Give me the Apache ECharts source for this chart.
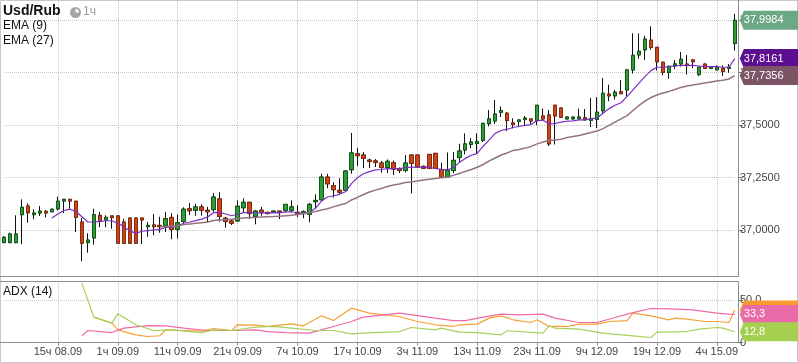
<!DOCTYPE html>
<html>
<head>
<meta charset="utf-8">
<script src="https://cdn.jsdelivr.net/npm/echarts@6/dist/echarts.min.js"></script>
<style>
html,body{margin:0;padding:0;background:#fff;}
#c{width:798px;height:363px;}
</style>
</head>
<body>
<div id="c"></div>
<script>
// ---------- DATA ----------
const days = [['08.09',6,23],['09.09',0,23],['10.09',0,23],['11.09',0,23],['12.09',0,23],['14.09',23,23],['15.09',0,7]];
const categories = [];
days.forEach(([d,a,b]) => { for (let h=a; h<=b; h++) categories.push(h + 'ч ' + d); });
const tickFirst = 9, tickStep = 10;

const opens = [
36.940,36.940,36.940,37.073,37.114,37.073,37.081,37.089,37.087,37.101,
37.138,37.146,37.137,37.038,36.940,36.962,37.070,37.048,37.067,37.067,
37.038,37.057,37.057,37.057,37.016,37.024,37.022,37.022,37.060,37.003,
37.041,37.101,37.094,37.110,37.094,37.097,37.148,37.056,37.043,37.043,
37.106,37.132,37.065,37.094,37.084,37.084,37.090,37.094,37.094,37.084,
37.078,37.075,37.135,37.144,37.252,37.211,37.189,37.189,37.287,37.363,
37.357,37.333,37.329,37.319,37.298,37.321,37.290,37.283,37.357,37.357,
37.303,37.360,37.365,37.288,37.252,37.283,37.345,37.381,37.407,37.412,
37.426,37.506,37.519,37.560,37.556,37.510,37.517,37.526,37.529,37.521,
37.543,37.548,37.594,37.581,37.529,37.529,37.529,37.534,37.522,37.526,
37.568,37.647,37.639,37.658,37.667,37.762,37.834,37.858,37.904,37.870,
37.799,37.750,37.782,37.791,37.790,37.810,37.740,37.790,37.769,37.763,
37.769,37.769,37.888];
const closes = [
36.965,36.981,36.981,37.108,37.082,37.081,37.090,37.081,37.099,37.137,
37.146,37.138,37.060,36.937,36.952,37.073,37.041,37.060,37.059,36.937,
36.937,36.937,36.937,37.048,37.022,37.016,37.016,37.054,37.003,37.035,
37.099,37.092,37.110,37.094,37.087,37.157,37.065,37.040,37.032,37.113,
37.132,37.078,37.090,37.084,37.078,37.090,37.084,37.122,37.110,37.078,
37.087,37.122,37.141,37.252,37.220,37.192,37.180,37.281,37.367,37.354,
37.341,37.326,37.321,37.298,37.327,37.290,37.283,37.319,37.317,37.300,
37.294,37.293,37.293,37.252,37.284,37.332,37.376,37.410,37.419,37.422,
37.508,37.529,37.552,37.569,37.521,37.502,37.524,37.533,37.519,37.594,
37.529,37.410,37.543,37.537,37.538,37.538,37.538,37.525,37.530,37.561,
37.651,37.639,37.656,37.649,37.762,37.832,37.851,37.909,37.869,37.801,
37.750,37.779,37.791,37.813,37.783,37.801,37.775,37.769,37.775,37.775,
37.755,37.775,37.9984];
const lows = [
36.937,36.937,36.937,36.933,37.035,37.051,37.067,37.060,37.086,37.092,
37.080,37.101,36.990,36.851,36.892,36.930,37.013,37.013,37.006,36.937,
36.937,36.937,36.937,36.933,36.968,36.975,36.987,36.990,36.956,36.959,
37.032,37.071,37.068,37.068,37.037,37.087,37.040,37.011,37.024,37.040,
37.084,37.052,37.027,37.068,37.075,37.082,37.052,37.084,37.084,37.062,
37.056,37.037,37.103,37.141,37.199,37.154,37.167,37.182,37.268,37.305,
37.295,37.295,37.300,37.274,37.271,37.262,37.271,37.275,37.174,37.300,
37.290,37.290,37.290,37.251,37.250,37.271,37.319,37.360,37.390,37.364,
37.419,37.493,37.505,37.538,37.471,37.484,37.490,37.500,37.505,37.500,
37.519,37.400,37.407,37.533,37.527,37.527,37.529,37.522,37.490,37.485,
37.552,37.613,37.622,37.648,37.635,37.745,37.815,37.810,37.858,37.759,
37.737,37.720,37.767,37.778,37.740,37.771,37.733,37.767,37.767,37.760,
37.733,37.749,37.855];
const highs = [
36.971,36.987,37.070,37.146,37.127,37.099,37.114,37.095,37.101,37.159,
37.146,37.146,37.137,37.057,36.984,37.101,37.086,37.070,37.067,37.067,
37.054,37.057,37.057,37.057,37.038,37.076,37.063,37.086,37.080,37.073,
37.108,37.129,37.125,37.122,37.110,37.176,37.180,37.062,37.049,37.141,
37.151,37.132,37.094,37.110,37.087,37.092,37.090,37.122,37.141,37.119,
37.094,37.129,37.170,37.268,37.268,37.227,37.246,37.284,37.462,37.390,
37.371,37.340,37.338,37.329,37.336,37.331,37.298,37.357,37.360,37.357,
37.307,37.362,37.367,37.321,37.369,37.371,37.410,37.460,37.438,37.460,
37.510,37.571,37.619,37.588,37.562,37.532,37.525,37.543,37.530,37.595,
37.579,37.571,37.595,37.582,37.540,37.538,37.578,37.576,37.629,37.633,
37.724,37.692,37.667,37.714,37.765,37.937,37.936,37.925,37.970,37.870,
37.800,37.784,37.810,37.848,37.833,37.810,37.775,37.793,37.776,37.784,
37.784,37.790,38.029];

const ema9Start = 8;
const ema9 = [
37.057,37.076,37.093,37.099,37.089,37.063,37.038,37.038,37.041,37.044,
37.044,37.032,37.016,36.997,36.984,36.994,36.997,37.000,37.003,37.013,
37.013,37.019,37.032,37.038,37.045,37.052,37.062,37.083,37.084,37.076,
37.068,37.075,37.083,37.084,37.081,37.082,37.082,37.083,37.082,37.086,
37.087,37.082,37.080,37.084,37.103,37.138,37.157,37.163,37.170,37.182,
37.221,37.249,37.268,37.278,37.286,37.288,37.292,37.292,37.292,37.297,
37.299,37.299,37.299,37.298,37.293,37.289,37.286,37.298,37.321,37.341,
37.356,37.365,37.399,37.429,37.460,37.474,37.480,37.488,37.494,37.498,
37.502,37.521,37.523,37.505,37.507,37.514,37.518,37.520,37.524,37.524,
37.530,37.533,37.556,37.578,37.594,37.606,37.635,37.667,37.699,37.730,
37.759,37.775,37.775,37.778,37.781,37.784,37.784,37.784,37.781,37.778,
37.778,37.778,37.775,37.775,37.8161];

const ema27Start = 26;
const ema27 = [
37.016,37.017,37.018,37.019,37.026,37.029,37.032,37.035,37.038,37.045,
37.048,37.049,37.051,37.055,37.057,37.059,37.060,37.062,37.063,37.064,
37.066,37.068,37.070,37.074,37.079,37.083,37.088,37.095,37.101,37.110,
37.119,37.126,37.143,37.155,37.169,37.181,37.190,37.198,37.207,37.214,
37.219,37.226,37.229,37.233,37.238,37.242,37.245,37.249,37.251,37.260,
37.269,37.279,37.288,37.299,37.312,37.329,37.343,37.357,37.367,37.379,
37.383,37.390,37.398,37.410,37.419,37.426,37.429,37.432,37.440,37.445,
37.450,37.457,37.464,37.471,37.483,37.498,37.514,37.529,37.545,37.569,
37.593,37.614,37.631,37.643,37.652,37.660,37.669,37.679,37.686,37.690,
37.695,37.700,37.705,37.710,37.713,37.719,37.7356];

// ADX(14) panel lines: [candle index, value]
const adxOrange = [[15,30],[18,23],[19,15],[22,9.1],[24,7.1],[26,8],[27,15],[30,14.2],[33,13.4],[35,16.6],[38,14.2],[39,21],[42,20.6],[44,19],[48,22],[50,19.8],[53,31.6],[55,26],[58,40.7],[61,34.8],[66,30.8],[69,24.9],[72,21],[75,19],[76,21],[79,21.8],[81,28.9],[83,31.6],[85,26.9],[88,23.7],[89,26.9],[91,19],[94,19],[96,21.8],[99,21.8],[101,24.9],[104,26],[105,34.8],[108,31.6],[111,26.9],[112,28.9],[114,27.7],[117,24.9],[119,24.9],[121,23.7],[122,38.6]];
const adxPink = [[13,7.9],[14,14.2],[18,11.8],[20,17],[24,20.1],[27,19.8],[30,17],[34,14.2],[38,14.2],[42,15],[44,13],[47,11.8],[51,11.1],[53,15],[55,19],[58,24.9],[60,30],[66,34.8],[72,28.9],[75,26],[77,26],[80,30],[83,33.6],[86,32.8],[90,33.6],[92,28.9],[96,23.7],[99,23.7],[102,29.6],[105,35.5],[108,40.3],[111,39.9],[115,38.7],[119,34.8],[121,33.6],[122,33.3]];
const adxGreen = [[13,70.4],[15,30],[18,23],[19,34],[22,21],[25,14.2],[28,15],[33,11.8],[35,15],[38,14.2],[42,18.2],[45,19],[48,17],[52,14.2],[55,14.2],[58,10.3],[60,11.1],[66,13],[68,17.8],[72,15],[73,17],[76,12.3],[79,11.8],[83,9.1],[84,13.9],[90,11.1],[91,19.8],[92,17],[96,15.9],[100,11.1],[105,7.9],[108,5.9],[109,12.3],[114,13],[116,15.9],[119,17.8],[120,17],[122,12.8]];

// ---------- CHART ----------
const FONT = 'Liberation Sans, Arial, sans-serif';
const N = categories.length;
const idx = categories.map((_, i) => i);
const pad = (start, arr) => new Array(start).fill(null).concat(arr);
const showTick = (i) => i % tickStep === tickFirst;
const fmt4 = v => v.toFixed(4).replace('.', ',');
const fmt1 = v => v.toFixed(1).replace('.', ',');

function tag(i, val, text, color, showText) {
  return {
    symbol: 'path://M0,9.5 L4,0 L60,0 L60,19 L4,19 Z',
    symbolSize: [60, 19],
    symbolKeepAspect: false,
    symbolOffset: [35, 0],
    silent: true,
    animation: false,
    itemStyle: { color: color },
    label: { show: showText !== false, position: 'insideLeft', distance: 4, color: '#fff', fontSize: 11, fontFamily: FONT, formatter: text },
    data: [{ coord: [i, val] }]
  };
}

const gridL = 4, gridW = 730.8;
const dotted = { color: '#c4c4c4', type: 'dotted', width: 1 };
const last = N - 1;

const option = {
  animation: false,
  backgroundColor: '#fff',
  grid: [
    { left: gridL, top: 1, width: gridW, height: 281.5, show: false },   // main data
    { left: gridL, top: 281.5, width: gridW, height: 61, show: false },  // ADX
    { left: gridL, top: 1, width: gridW, height: 275.5, show: false }    // main vertical grid
  ],
  xAxis: [
    { type: 'category', gridIndex: 0, data: categories, boundaryGap: false, show: false },
    { type: 'category', gridIndex: 1, data: categories, boundaryGap: false,
      axisLine: { show: false },
      axisTick: { show: true, interval: showTick, length: 3, lineStyle: { color: '#888' } },
      axisLabel: { interval: showTick, color: '#444', fontSize: 11, fontFamily: FONT, margin: 4 },
      splitLine: { show: true, interval: showTick, lineStyle: dotted } },
    { type: 'category', gridIndex: 2, data: categories, boundaryGap: false,
      axisLine: { show: false }, axisTick: { show: false }, axisLabel: { show: false },
      splitLine: { show: true, interval: showTick, lineStyle: dotted } }
  ],
  yAxis: [
    { type: 'value', gridIndex: 0, position: 'right', offset: 3.2, min: 36.75, max: 38.0905, interval: 0.25,
      axisLine: { show: false },
      axisTick: { show: true, length: 5, lineStyle: { color: '#777' } },
      axisLabel: { color: '#444', fontSize: 11, fontFamily: FONT, margin: 2, showMinLabel: false, showMaxLabel: false, formatter: fmt4 },
      splitLine: { show: true, showMinLine: false, showMaxLine: false, lineStyle: dotted } },
    { type: 'value', gridIndex: 1, position: 'right', offset: 3.2, min: 0, max: 72.3, interval: 50,
      axisLine: { show: false },
      axisTick: { show: true, length: 5, lineStyle: { color: '#777' } },
      axisLabel: { color: '#444', fontSize: 11, fontFamily: FONT, margin: 2, showMaxLabel: false, formatter: v => v === 0 ? '0' : fmt1(v) },
      splitLine: { show: true, showMinLine: false, showMaxLine: false, lineStyle: dotted } },
    { type: 'value', gridIndex: 2, min: 0, max: 1, show: false, splitLine: { show: false } }
  ],
  series: [
    { type: 'candlestick', xAxisIndex: 0, yAxisIndex: 0, barWidth: 4, clip: false, silent: true, z: 2,
      data: idx.map(i => [opens[i], closes[i], lows[i], highs[i]]),
      itemStyle: { color: '#2f9a3c', color0: '#c8461c', borderColor: '#111', borderColor0: '#111', borderWidth: 1 } },
    { type: 'candlestick', xAxisIndex: 0, yAxisIndex: 0, barWidth: 4, clip: false, silent: true, z: 2,
      data: idx.map(i => [opens[i], closes[i], Math.min(opens[i], closes[i]), Math.max(opens[i], closes[i])]),
      itemStyle: { color: '#2f9a3c', color0: '#c8461c', borderColor: '#0f5a14', borderColor0: '#8a2b0b', borderWidth: 1 },
      markPoint: tag(last, closes[last], fmt4(closes[last]), '#6ca884') },
    { type: 'line', xAxisIndex: 0, yAxisIndex: 0, z: 3, symbol: 'none', silent: true,
      data: pad(ema9Start, ema9), lineStyle: { color: '#7a2fc0', width: 1.2 },
      markPoint: tag(last, ema9[ema9.length - 1], fmt4(ema9[ema9.length - 1]), '#5c1091') },
    { type: 'line', xAxisIndex: 0, yAxisIndex: 0, z: 3, symbol: 'none', silent: true,
      data: pad(ema27Start, ema27), lineStyle: { color: '#957282', width: 1.5 },
      markPoint: tag(last, ema27[ema27.length - 1], fmt4(ema27[ema27.length - 1]), '#7b5466') },
    { type: 'line', xAxisIndex: 1, yAxisIndex: 1, z: 3, symbol: 'none', silent: true, clip: true,
      data: adxOrange, lineStyle: { color: '#f7a035', width: 1.2 },
      markPoint: tag(last, adxOrange[adxOrange.length - 1][1], fmt1(adxOrange[adxOrange.length - 1][1]), '#f79a30', false) },
    { type: 'line', xAxisIndex: 1, yAxisIndex: 1, z: 3, symbol: 'none', silent: true, clip: true,
      data: adxPink, lineStyle: { color: '#ee6aa7', width: 1.2 },
      markPoint: tag(last, adxPink[adxPink.length - 1][1], fmt1(adxPink[adxPink.length - 1][1]), '#e96ba8') },
    { type: 'line', xAxisIndex: 1, yAxisIndex: 1, z: 3, symbol: 'none', silent: true, clip: true,
      data: adxGreen, lineStyle: { color: '#a8d05a', width: 1.2 },
      markPoint: tag(last, adxGreen[adxGreen.length - 1][1], fmt1(adxGreen[adxGreen.length - 1][1]), '#a5cf4f') }
  ],
  graphic: [
    { type: 'rect', silent: true, z: 0, shape: { x: 0.5, y: 0.5, width: 797, height: 362 }, style: { fill: 'none', stroke: '#c8c8c8', lineWidth: 1 } },
    { type: 'polyline', silent: true, z: 10, shape: { points: [[0, 276.5], [738.5, 276.5], [738.5, 0]] }, style: { fill: 'none', stroke: '#8c8c8c', lineWidth: 1 } },
    { type: 'polyline', silent: true, z: 10, shape: { points: [[0, 281.5], [738.5, 281.5], [738.5, 342.5], [0, 342.5]] }, style: { fill: 'none', stroke: '#8c8c8c', lineWidth: 1 } },
    { type: 'text', silent: true, z: 10, left: 3, top: 4, style: { text: 'Usd/Rub', font: 'bold 14px ' + FONT, fill: '#111' } },
    { type: 'circle', silent: true, z: 10, shape: { cx: 75.5, cy: 12.5, r: 5.5 }, style: { fill: '#a6a6a6' } },
    { type: 'sector', silent: true, z: 11, shape: { cx: 75.5, cy: 12.5, r: 3.6, r0: 0, startAngle: -Math.PI / 2, endAngle: 0 }, style: { fill: '#fff' } },
    { type: 'text', silent: true, z: 10, left: 83, top: 6, style: { text: '1ч', font: '12px ' + FONT, fill: '#9a9a9a' } },
    { type: 'text', silent: true, z: 10, left: 3, top: 20, style: { text: 'EMA (9)', font: '12px ' + FONT, fill: '#111' } },
    { type: 'text', silent: true, z: 10, left: 3, top: 35, style: { text: 'EMA (27)', font: '12px ' + FONT, fill: '#111' } },
    { type: 'text', silent: true, z: 10, left: 3, top: 286, style: { text: 'ADX (14)', font: '12px ' + FONT, fill: '#111' } }
  ]
};

const chart = echarts.init(document.getElementById('c'), null, { renderer: 'canvas' });
chart.setOption(option);
</script>
</body>
</html>
